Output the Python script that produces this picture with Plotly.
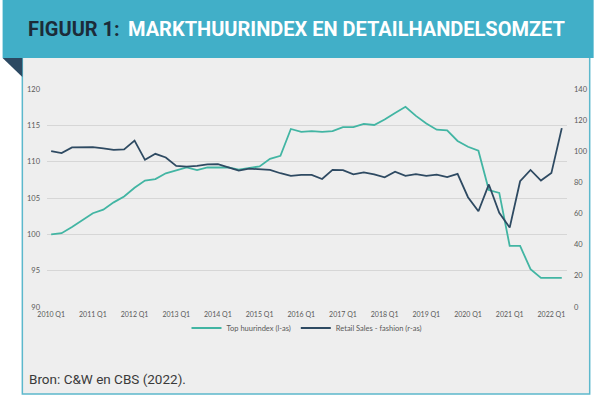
import plotly.graph_objects as go

quarters = [
    "2010 Q1", "2010 Q2", "2010 Q3", "2010 Q4", "2011 Q1", "2011 Q2", "2011 Q3", "2011 Q4",
    "2012 Q1", "2012 Q2", "2012 Q3", "2012 Q4", "2013 Q1", "2013 Q2", "2013 Q3", "2013 Q4",
    "2014 Q1", "2014 Q2", "2014 Q3", "2014 Q4", "2015 Q1", "2015 Q2", "2015 Q3", "2015 Q4",
    "2016 Q1", "2016 Q2", "2016 Q3", "2016 Q4", "2017 Q1", "2017 Q2", "2017 Q3", "2017 Q4",
    "2018 Q1", "2018 Q2", "2018 Q3", "2018 Q4", "2019 Q1", "2019 Q2", "2019 Q3", "2019 Q4",
    "2020 Q1", "2020 Q2", "2020 Q3", "2020 Q4", "2021 Q1", "2021 Q2", "2021 Q3", "2021 Q4",
    "2022 Q1", "2022 Q2",
]

top_huurindex = [
    100.0, 100.15, 101.0, 102.0, 102.9, 103.4, 104.4, 105.2, 106.4, 107.4,
    107.6, 108.4, 108.8, 109.2, 108.85, 109.2, 109.2, 109.2, 108.9, 109.1,
    109.35, 110.4, 110.8, 114.5, 114.1, 114.2, 114.1, 114.2, 114.75, 114.75,
    115.2, 115.05, 115.8, 116.7, 117.55, 116.3, 115.25, 114.4, 114.3, 112.85,
    112.05, 111.5, 106.1, 105.7, 98.4, 98.4, 95.2, 94.0, 94.0, 94.0,
]

retail_sales_fashion = [
    100.1, 98.8, 102.5, 102.5, 102.7, 101.8, 100.9, 101.2, 106.9, 94.5,
    98.4, 96.0, 90.6, 90.2, 90.6, 91.6, 91.7, 89.6, 87.6, 88.9,
    88.5, 88.0, 85.9, 84.2, 84.8, 84.8, 82.2, 88.1, 87.9, 85.2,
    86.5, 85.2, 83.3, 86.9, 84.2, 85.3, 84.2, 85.0, 83.4, 85.5,
    70.5, 61.5, 78.7, 60.5, 51.0, 80.8, 88.0, 81.2, 86.0, 114.9,
]

x_ticks = ["2010 Q1", "2011 Q1", "2012 Q1", "2013 Q1", "2014 Q1", "2015 Q1", "2016 Q1",
           "2017 Q1", "2018 Q1", "2019 Q1", "2020 Q1", "2021 Q1", "2022 Q1"]
left_ticks = [90, 95, 100, 105, 110, 115, 120]
right_ticks = [0, 20, 40, 60, 80, 100, 120, 140]

series_names = ["Top huurindex (l-as)", "Retail Sales - fashion (r-as)"]
title_label = "FIGUUR 1:"
title_text = "MARKTHUURINDEX EN DETAILHANDELSOMZET"
source_text = "Bron: C&W en CBS (2022)."

# ---- layout geometry (pixels) ----
W, H = 600, 397
ML, MR, MT, MB = 47, 26, 89, 90
PW, PH = W - ML - MR, H - MT - MB


def px(x):
    return (x - ML) / PW


def py(y):
    return (H - MB - y) / PH


TEAL = "#42b5a3"
DARK = "#2e4a62"
HEADER = "#41afc8"
TICKFONT = dict(family="Lato, Liberation Sans, sans-serif", size=7.5, color="#595959")
XTICKFONT = dict(family="Lato, Liberation Sans, sans-serif", size=7, color="#595959")

fig = go.Figure()
fig.add_trace(go.Scatter(
    x=quarters, y=top_huurindex, mode="lines", name=series_names[0],
    line=dict(color=TEAL, width=1.8), yaxis="y",
))
fig.add_trace(go.Scatter(
    x=quarters, y=retail_sales_fashion, mode="lines", name=series_names[1],
    line=dict(color=DARK, width=1.8), yaxis="y2",
))

shapes = [
    # grey panel with teal border
    dict(type="rect", xref="paper", yref="paper", x0=px(22), x1=px(597), y0=py(394), y1=py(57),
         fillcolor="#eeeeee", line=dict(color="#5cb8cc", width=1.5), layer="below"),
    # header band
    dict(type="rect", xref="paper", yref="paper", x0=px(2), x1=px(601), y0=py(58), y1=py(0),
         fillcolor=HEADER, line=dict(width=0), layer="below"),
    # folded corner triangle
    dict(type="path", xref="paper", yref="paper",
         path=f"M {px(2)},{py(58)} L {px(22)},{py(58)} L {px(22)},{py(77)} Z",
         fillcolor="#2c4962", line=dict(width=0), layer="below"),
]

annotations = [
    dict(x=px(26), y=py(29), xref="paper", yref="paper", xanchor="left", yanchor="middle",
         text=f"<b>{title_label}</b>", showarrow=False,
         font=dict(family="Roboto, sans-serif", size=20, color="#1c2b39")),
    dict(x=px(127), y=py(29), xref="paper", yref="paper", xanchor="left", yanchor="middle",
         text=f"<b>{title_text}</b>", showarrow=False,
         font=dict(family="Roboto, sans-serif", size=20, color="#ffffff")),
    dict(x=px(27), y=py(379), xref="paper", yref="paper", xanchor="left", yanchor="middle",
         text=source_text, showarrow=False,
         font=dict(family="Roboto, sans-serif", size=13.5, color="#3a3a3a")),
]

fig.update_layout(
    width=W, height=H, autosize=False,
    margin=dict(l=ML, r=MR, t=MT, b=MB, pad=0),
    paper_bgcolor="#ffffff", plot_bgcolor="rgba(0,0,0,0)",
    shapes=shapes, annotations=annotations,
    showlegend=True,
    legend=dict(orientation="h", x=px(310), xanchor="center", y=py(328), yanchor="middle",
                bgcolor="rgba(0,0,0,0)", font=TICKFONT, itemwidth=30),
    xaxis=dict(type="category", categoryorder="array", categoryarray=quarters,
               range=[-0.4, 49.5], tickmode="array", tickvals=x_ticks, ticktext=x_ticks,
               showgrid=False, zeroline=False, showline=False, ticks="",
               tickfont=XTICKFONT, tickangle=0, ticklabelstandoff=2),
    yaxis=dict(range=[90, 120], tickmode="array", tickvals=left_ticks,
               showgrid=True, gridcolor="#d6d6d6", gridwidth=1, zeroline=False,
               showline=False, ticks="", tickfont=TICKFONT, ticklabelstandoff=6),
    yaxis2=dict(range=[0, 140], tickmode="array", tickvals=right_ticks, overlaying="y",
                side="right", showgrid=False, zeroline=False, showline=False, ticks="",
                tickfont=TICKFONT, ticklabelstandoff=6),
)

fig.write_html(
    "out.html",
    config={"displayModeBar": False},
    post_script="document.body.style.margin='0';document.body.style.overflow='hidden';",
)
